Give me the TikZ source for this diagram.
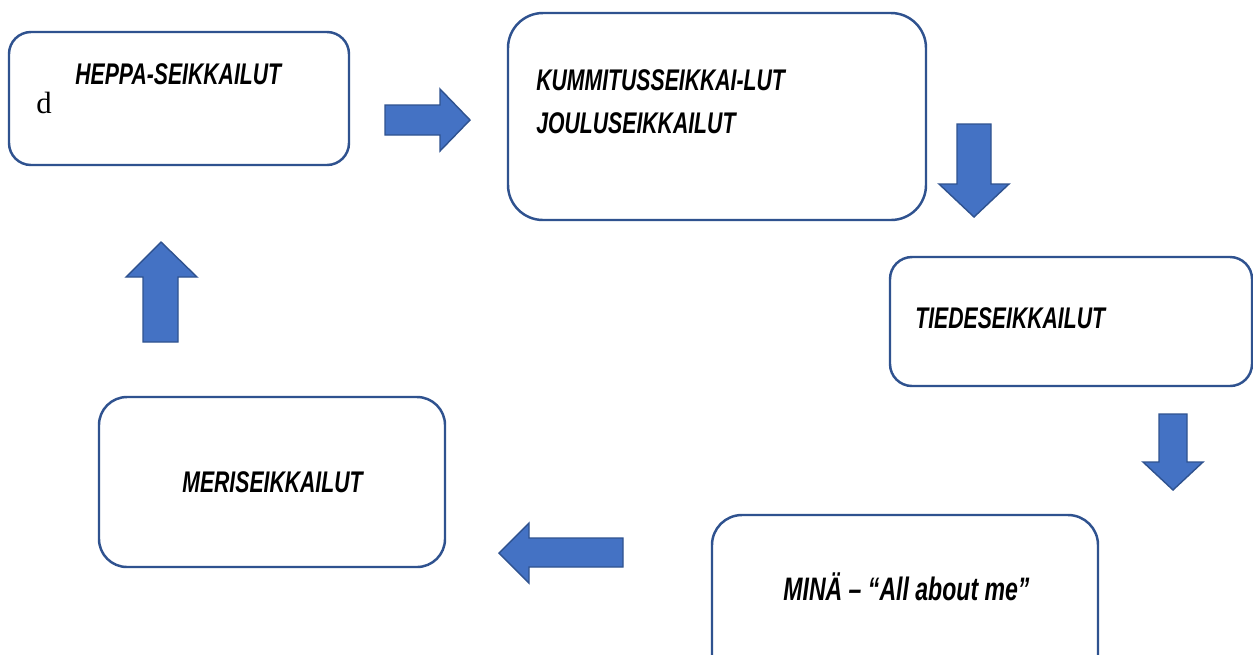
\documentclass[tikz,border=0pt]{standalone}
\usepackage{fontspec}
\setmainfont{Liberation Serif}
\newfontfamily\brushfont[FakeStretch=0.71]{Liberation Sans Bold Italic}
\definecolor{boxline}{HTML}{2F528F}
\definecolor{arrowfill}{HTML}{4472C4}
\begin{document}
\begin{tikzpicture}[x=0.02cm,y=-0.02cm,
  stagebox/.style={draw=boxline,line width=1.4pt,fill=white},
  blockarrow/.style={draw=boxline,line width=0.8pt,fill=arrowfill,line join=miter},
  label/.style={inner sep=0pt,anchor=base west,font=\brushfont\fontsize{17}{20}\selectfont}]
\clip (0,0) rectangle (1253,654);
\fill[white] (0,0) rectangle (1253,654);
% boxes
\draw[stagebox,rounded corners=22*0.2mm] (9,32) rectangle (349,165);
\draw[stagebox,rounded corners=35*0.2mm] (508,13) rectangle (926,220);
\draw[stagebox,rounded corners=22*0.2mm] (890,257) rectangle (1252,386);
\draw[stagebox,rounded corners=30*0.2mm] (712,515) rectangle (1098,690);
\draw[stagebox,rounded corners=28*0.2mm] (99,397) rectangle (445,567);
% texts
\node[inner sep=0pt,anchor=base west,font=\fontsize{17.5}{20}\selectfont] (d) at (36,113) {d};
\node[label] (heppa) at (75,84) {HEPPA-SEIKKAILUT};
\node[label] (kummitus) at (536,90) {KUMMITUSSEIKKAI-LUT};
\node[label] (joulu) at (536,133) {JOULUSEIKKAILUT};
\node[label] (tiede) at (915,328) {TIEDESEIKKAILUT};
\node[label,font=\brushfont\fontsize{18.5}{22}\selectfont] (mina) at (783,600) {MINÄ – “All about me”};
\node[label] (meri) at (182,492) {MERISEIKKAILUT};
% block arrows
\draw[blockarrow] (385,105) -- (440,105) -- (440,89) -- (470,120) -- (440,151) -- (440,135) -- (385,135) -- cycle;
\draw[blockarrow] (957,124) -- (991,124) -- (991,184) -- (1009,184) -- (974,217) -- (939,184) -- (957,184) -- cycle;
\draw[blockarrow] (1159,414) -- (1187,414) -- (1187,462) -- (1203,462) -- (1173,490) -- (1143,462) -- (1159,462) -- cycle;
\draw[blockarrow] (623,538) -- (529,538) -- (529,523) -- (499,553) -- (529,583) -- (529,567) -- (623,567) -- cycle;
\draw[blockarrow] (143,342) -- (143,277) -- (126,277) -- (161,242) -- (197,277) -- (178,277) -- (178,342) -- cycle;
\end{tikzpicture}
\end{document}
